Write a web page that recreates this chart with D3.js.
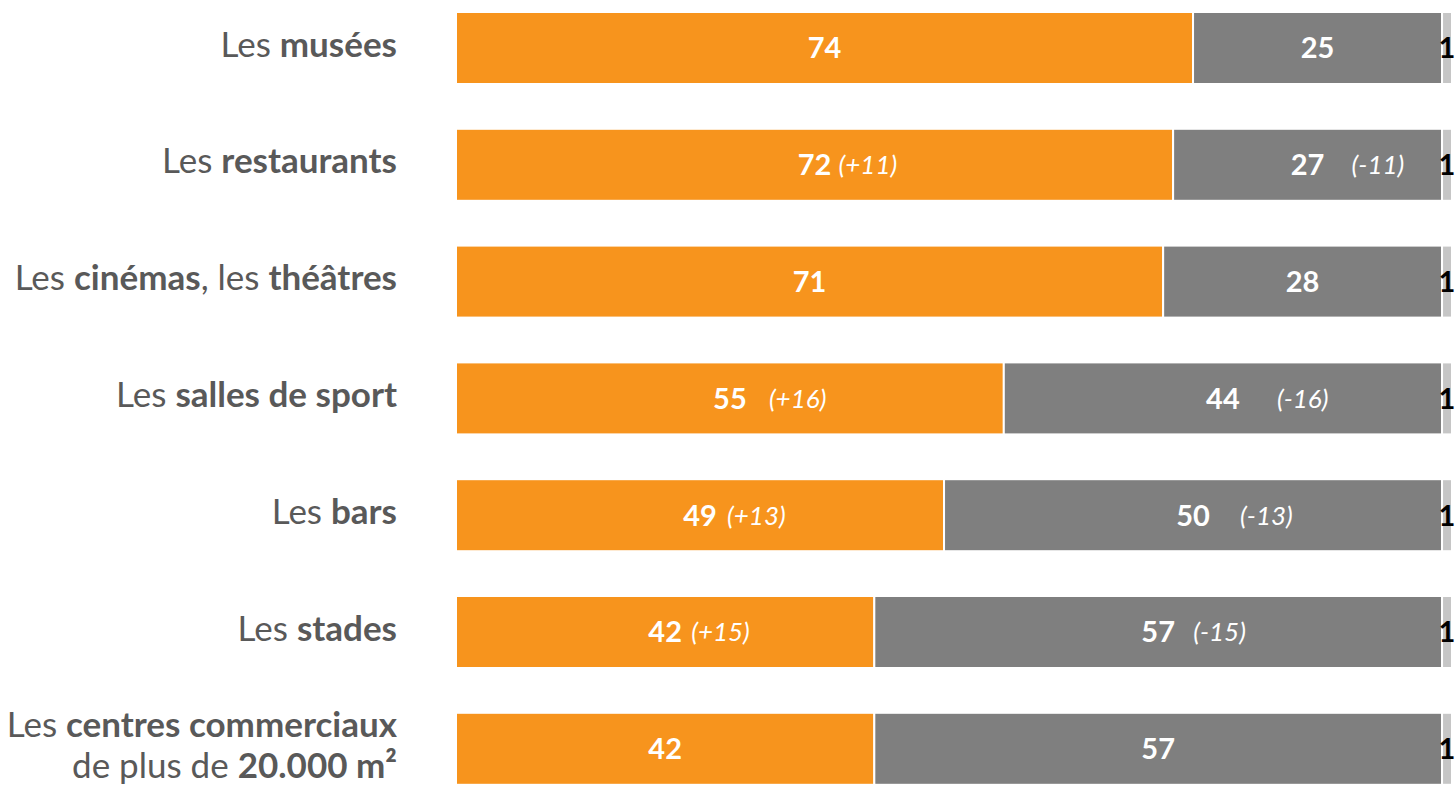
<!doctype html>
<head>
  <meta charset="utf-8">
  <script src="https://cdnjs.cloudflare.com/ajax/libs/d3/7.8.2/d3.min.js"></script>
</head>
<style>
    body { margin: 0; background: white; }
    svg { display: block; font-family: Lato, "Open Sans", sans-serif; }
</style>
<body>
    <div id="chart"></div>
    <script>
        // Libellés (parties en gras entre *)
        const categories = [
            ["Les *musées*"],
            ["Les *restaurants*"],
            ["Les *cinémas*, les *théâtres*"],
            ["Les *salles de sport*"],
            ["Les *bars*"],
            ["Les *stades*"],
            ["Les *centres commerciaux*", "de plus de *20.000 m²*"],
        ];
        const oui = [74, 72, 71, 55, 49, 42, 42];
        const non = [25, 27, 28, 44, 50, 57, 57];
        const nsp = [1, 1, 1, 1, 1, 1, 1];
        const evolOui = [null, "+11", null, "+16", "+13", "+15", null];
        const evolNon = [null, "-11", null, "-16", "-13", "-15", null];

        // écarts entre le chiffre et l'évolution (mise en page)
        const gapOui = [0, 8, 0, 23, 11, 10, 0];
        const gapNon = [0, 28, 0, 38, 31, 19, 0];

        const width = 1455, height = 785;
        const left = 456, right = 1452;
        const colors = { oui: '#f7941d', non: '#7f7f7f', nsp: '#c6c6c6' };

        const data = categories.map((c, i) => ({
            label: c, i: i,
            segs: [
                { key: 'oui', start: 0, value: oui[i], evol: evolOui[i], gap: gapOui[i] },
                { key: 'non', start: oui[i], value: non[i], evol: evolNon[i], gap: gapNon[i] },
                { key: 'nsp', start: oui[i] + non[i], value: nsp[i] },
            ]
        }));

        const x = d3.scaleLinear().domain([0, 100]).range([left, right]);
        const y = d3.scaleBand().domain(d3.range(categories.length))
            .range([12, 784.8]).paddingInner(0.3836).paddingOuter(0);

        const svg = d3.select('#chart').append('svg')
            .attr('width', width).attr('height', height);

        const rows = svg.selectAll('.row').data(data).enter()
            .append('g').attr('class', 'row')
            .attr('transform', (d) => `translate(0,${y(d.i)})`);

        // segments
        rows.selectAll('rect').data((d) => d.segs).enter()
            .append('rect')
            .attr('x', (s) => x(s.start))
            .attr('width', (s) => x(s.start + s.value) - x(s.start))
            .attr('y', 0)
            .attr('height', y.bandwidth())
            .attr('fill', (s) => colors[s.key])
            .attr('stroke', 'white')
            .attr('stroke-width', 2);

        // chiffres dans les barres
        const mid = y.bandwidth() / 2;
        rows.selectAll('.val').data((d) => d.segs.filter((s) => s.key !== 'nsp')).enter()
            .append('text').attr('class', 'val')
            .attr('x', (s) => x(s.start + s.value / 2))
            .attr('y', mid)
            .attr('dy', '0.36em')
            .attr('text-anchor', 'middle')
            .attr('fill', 'white')
            .attr('font-weight', 'bold')
            .attr('font-size', 29)
            .text((s) => s.value);

        rows.selectAll('.evol').data((d) => d.segs.filter((s) => s.evol)).enter()
            .append('text').attr('class', 'evol')
            .attr('x', (s) => x(s.start + s.value / 2) + 16 + s.gap)
            .attr('y', mid)
            .attr('dy', '0.36em')
            .attr('fill', 'white')
            .attr('font-style', 'italic')
            .attr('font-size', 26)
            .text((s) => `(${s.evol})`);

        // petit "1" à droite
        rows.selectAll('.nsp').data((d) => d.segs.filter((s) => s.key === 'nsp')).enter()
            .append('text').attr('class', 'nsp')
            .attr('x', (s) => x(s.start + s.value / 2))
            .attr('y', mid)
            .attr('dy', '0.36em')
            .attr('text-anchor', 'middle')
            .attr('fill', 'black')
            .attr('font-weight', 'bold')
            .attr('font-size', 29)
            .text((s) => s.value);

        // libellés à gauche
        const labels = rows.append('text')
            .attr('x', 397)
            .attr('text-anchor', 'end')
            .attr('fill', '#595959')
            .attr('font-size', 35);

        labels.each(function (d) {
            const t = d3.select(this);
            const n = d.label.length;
            d.label.forEach((line, li) => {
                const ty = mid - 4 + (li - (n - 1) / 2) * 41;
                line.split('*').forEach((part, pi) => {
                    const span = t.append('tspan').text(part)
                        .attr('font-weight', pi % 2 ? 'bold' : 'normal');
                    if (pi === 0) span.attr('x', 397).attr('y', ty).attr('dy', '0.36em');
                });
            });
        });
    </script>
</body>
